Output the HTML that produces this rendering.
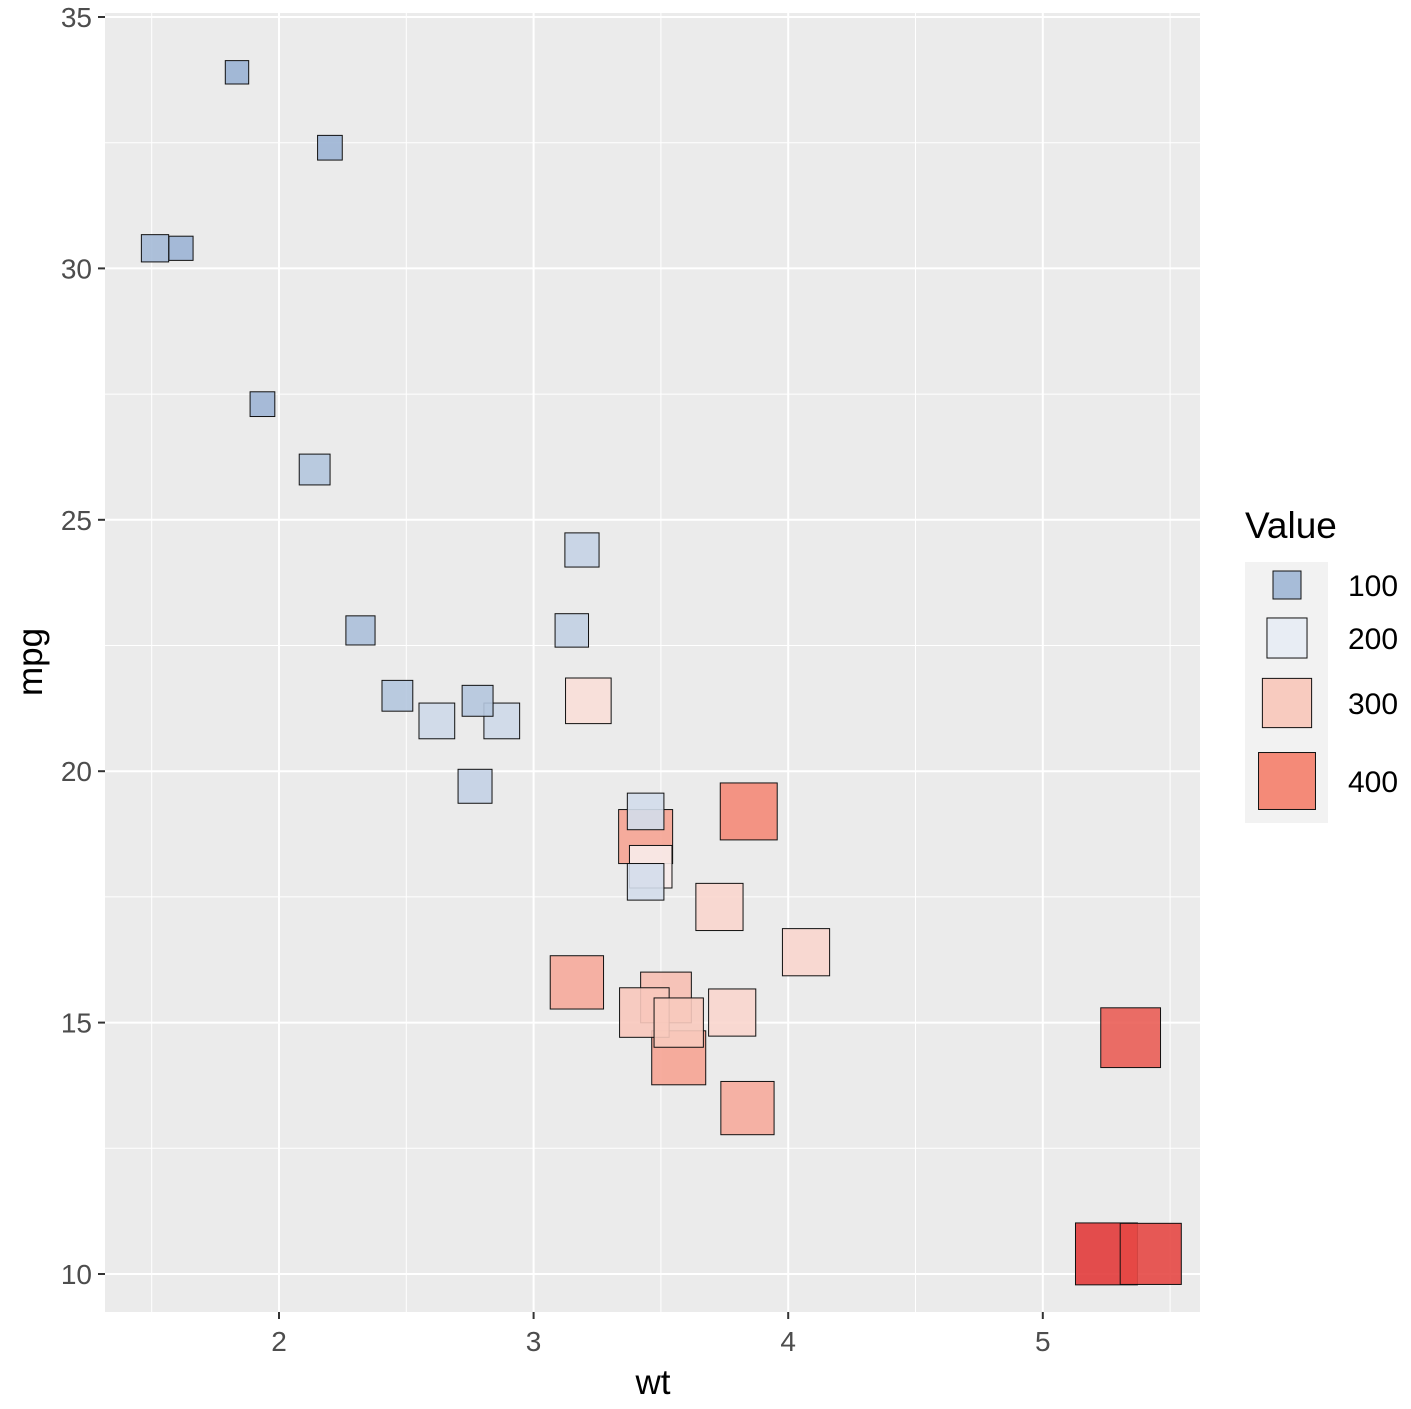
<!DOCTYPE html>
<html><head><meta charset="utf-8"><style>
body{margin:0;background:#fff;font-family:"Liberation Sans",sans-serif}
</style></head><body>
<svg width="1411" height="1404" xmlns="http://www.w3.org/2000/svg">
<g id="grid"></g><g id="pts"></g><g id="axes"></g><g id="legend"></g>
</svg>
<script>
const wt=[2.620,2.875,2.320,3.215,3.440,3.460,3.570,3.190,3.150,3.440,3.440,4.070,3.730,3.780,5.250,5.424,5.345,2.200,1.615,1.835,2.465,3.520,3.435,3.840,3.845,1.935,2.140,1.513,3.170,2.770,3.570,2.780];
const mpg=[21.0,21.0,22.8,21.4,18.7,18.1,14.3,24.4,22.8,19.2,17.8,16.4,17.3,15.2,10.4,10.4,14.7,32.4,30.4,33.9,21.5,15.5,15.2,13.3,19.2,27.3,26.0,30.4,15.8,19.7,15.0,21.4];
const disp=[160,160,108,258,360,225,360,146.7,140.8,167.6,167.6,275.8,275.8,275.8,472,460,440,78.7,75.7,71.1,120.1,318,304,350,400,79,120.3,95.1,351,145,301,121];
const xTicks=[2,3,4,5];
const yTicks=[10,15,20,25,30,35];
const legendVals=[100,200,300,400];
const NS="http://www.w3.org/2000/svg";
const X=v=>279+(v-2)*254.6;
const Y=v=>1274-(v-10)*50.28;
const side=d=>Math.sqrt(Math.max(100,784+8.2*(d-100)));
const stops=[[71,[154,178,212]],[100,[167,188,216]],[200,[232,237,244]],[230,[251,236,233]],[300,[248,203,191]],[400,[244,138,120]],[472,[226,59,59]]];
function col(d){for(let i=0;i<stops.length-1;i++){const[a,ca]=stops[i],[b,cb]=stops[i+1];if(d<=b){const t=Math.max(0,(d-a)/(b-a));return`rgb(${ca.map((c,j)=>Math.round(c+(cb[j]-c)*t)).join(',')})`;}}return'rgb(226,59,59)';}
function el(t,a,p){const e=document.createElementNS(NS,t);for(const k in a)e.setAttribute(k,a[k]);p.appendChild(e);return e;}
const g=document.getElementById('grid');
const bg=el('rect',{x:105,y:13,width:1095,height:1299,fill:'#ebebeb'},g);


for(let v=1.5;v<=5.5;v+=0.5){const l=el('line',{x1:X(v),x2:X(v),y1:13,y2:1312,stroke:'#fff','stroke-width':v%1?1:2},g);}
for(let v=10;v<=35;v+=2.5){const l=el('line',{x1:105,x2:1200,y1:Y(v),y2:Y(v),stroke:'#fff','stroke-width':v%5?1:2},g);}
const p=document.getElementById('pts');
wt.forEach((w,i)=>{const s=side(disp[i]);const r=el('rect',{x:X(w)-s/2,y:Y(mpg[i])-s/2,width:s,height:s,fill:col(disp[i]),'fill-opacity':0.9,stroke:'#111','stroke-width':1},p);

});
const ax=document.getElementById('axes');
xTicks.forEach(v=>{el('line',{x1:X(v),x2:X(v),y1:1312,y2:1319,stroke:'#333','stroke-width':2},ax);const t=el('text',{x:X(v),y:1351,'text-anchor':'middle','font-size':28,fill:'#4d4d4d'},ax);t.textContent=v;});
yTicks.forEach(v=>{el('line',{x1:98,x2:105,y1:Y(v),y2:Y(v),stroke:'#333','stroke-width':2},ax);const t=el('text',{x:92,y:Y(v)+10,'text-anchor':'end','font-size':28,fill:'#4d4d4d'},ax);t.textContent=v;});
let t=el('text',{x:653,y:1394,'text-anchor':'middle','font-size':35},ax);t.textContent='wt';
t=el('text',{x:0,y:0,'text-anchor':'middle','font-size':35,transform:'translate(42,662) rotate(-90)'},ax);t.textContent='mpg';
const lg=document.getElementById('legend');
t=el('text',{x:1245,y:538,'font-size':37},lg);t.textContent='Value';
el('rect',{x:1245,y:562,width:83,height:261,fill:'#f2f2f2'},lg);
const ly=[585,638,703,781];
legendVals.forEach((v,i)=>{const s=side(v);const r=el('rect',{x:1287-s/2,y:ly[i]-s/2,width:s,height:s,fill:col(v),stroke:'#111','stroke-width':1},lg);
const tt=el('text',{x:1348,y:ly[i]+11,'font-size':30},lg);tt.textContent=v;});
</script>
</body></html>
